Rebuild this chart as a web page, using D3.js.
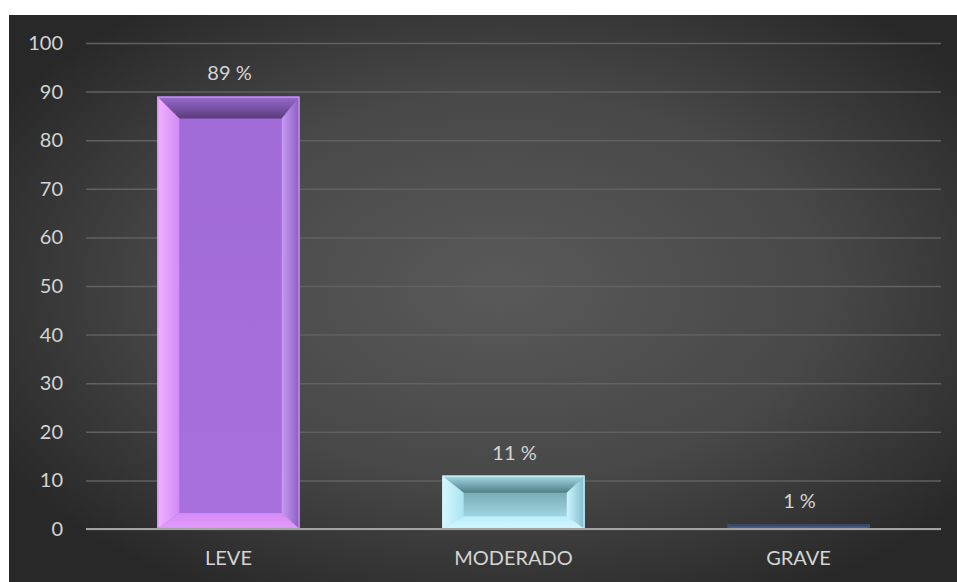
<!DOCTYPE html>
<html>
<head>
<meta charset="utf-8">
<script src="https://cdn.jsdelivr.net/npm/d3@7"></script>
<style>
  html, body { margin: 0; padding: 0; background: #ffffff; }
  svg { display: block; }
  text { font-family: "Lato", "Open Sans", sans-serif; fill: #d4d4d4; }
</style>
</head>
<body>
<svg id="chart" width="957" height="582"></svg>
<script>
// Severity categories and their percentages
const categories = ["LEVE", "MODERADO", "GRAVE"];
const values = [89, 11, 1];
const valueLabels = ["89 %", "11 %", "1 %"];
const yTicks = [0, 10, 20, 30, 40, 50, 60, 70, 80, 90, 100];

// Bevel palettes per bar: face (top→bottom), top, left, right, bottom
const palettes = [
  { face: ["#a06ad6", "#a870de"], top: ["#9a6cd0", "#5a3c7c"], left: ["#f6b0ff", "#d08cf4"],
    right: ["#c79af5", "#8b5cc0"], bottom: ["#d48af4", "#e29cfc"], edge: "#c59af2" },
  { face: ["#5f8f96", "#b2ecfa"], top: ["#a8dce6", "#4f7e86"], left: ["#d8f8ff", "#a8e4f2"],
    right: ["#cdf4ff", "#7fbccc"], bottom: ["#b8eefc", "#d4f7ff"], edge: "#c9f2fc" },
  { face: ["#2e3440", "#4f78c0"], top: ["#3a4150", "#34405a"], left: ["#3a4a68", "#4a68a8"],
    right: ["#3a4a68", "#4a68a8"], bottom: ["#5c82c8", "#6d90d6"], edge: "#3d4d6a" }
];

const svg = d3.select("#chart");
const W = 957, H = 582;
const margin = { top: 43, right: 16, bottom: 53, left: 86 };
const plotW = W - margin.left - margin.right;
const plotH = H - margin.top - margin.bottom;

const defs = svg.append("defs");

// Chart area background: dark radial gradient
const bg = defs.append("radialGradient").attr("id", "bgGrad")
  .attr("cx", "52%").attr("cy", "48%").attr("r", "62%");
bg.append("stop").attr("offset", "0%").attr("stop-color", "#595959");
bg.append("stop").attr("offset", "55%").attr("stop-color", "#484848");
bg.append("stop").attr("offset", "100%").attr("stop-color", "#282828");

svg.append("rect").attr("x", 9).attr("y", 15).attr("width", W - 9).attr("height", H - 15)
  .attr("fill", "url(#bgGrad)");

const x = d3.scaleBand().domain(categories).range([margin.left, margin.left + plotW])
  .paddingInner(0.5).paddingOuter(0.25);
const y = d3.scaleLinear().domain([0, 100]).range([margin.top + plotH, margin.top]);

// Gridlines
const grid = d3.axisLeft(y).tickValues(yTicks).tickSize(-plotW).tickFormat("");
const gG = svg.append("g").attr("transform", `translate(${margin.left},0)`).call(grid);
gG.select(".domain").remove();
gG.selectAll(".tick line").attr("stroke", "#616161").attr("stroke-width", 1.5);

// Y tick labels
const yAxis = d3.axisLeft(y).tickValues(yTicks).tickSize(0).tickPadding(23);
const yG = svg.append("g").attr("transform", `translate(${margin.left},0)`).call(yAxis);
yG.select(".domain").remove();
yG.selectAll("text").attr("font-size", 20).attr("fill", "#d4d4d4")
  .style("font-family", "Lato, 'Open Sans', sans-serif");

// Gradient helper (vertical by default, horizontal on request)
function vGrad(id, c, horiz) {
  const g = defs.append("linearGradient").attr("id", id)
    .attr("x1", 0).attr("y1", 0).attr("x2", horiz ? 1 : 0).attr("y2", horiz ? 0 : 1);
  g.append("stop").attr("offset", "0%").attr("stop-color", c[0]);
  g.append("stop").attr("offset", "100%").attr("stop-color", c[1]);
  return `url(#${id})`;
}

// Bars with bevelled frame
const bars = svg.append("g");
categories.forEach((cat, i) => {
  const v = values[i];
  const p = palettes[i];
  const x0 = x(cat), x1 = x0 + x.bandwidth();
  const y0 = y(v), y1 = y(0);
  const h = y1 - y0;
  const bt = Math.min(22, h * 0.32);
  const bb = Math.min(16, h * 0.24);
  const bl = Math.min(22, h * 0.4);
  const br = Math.min(18, h * 0.4);
  const g = bars.append("g");
  g.append("rect").attr("x", x0).attr("y", y0).attr("width", x1 - x0).attr("height", h)
    .attr("fill", vGrad(`face${i}`, p.face));
  const poly = pts => pts.map(d => d.join(",")).join(" ");
  // top bevel
  g.append("polygon").attr("points", poly([[x0, y0], [x1, y0], [x1 - br, y0 + bt], [x0 + bl, y0 + bt]]))
    .attr("fill", vGrad(`top${i}`, p.top));
  // bottom bevel
  g.append("polygon").attr("points", poly([[x0, y1], [x1, y1], [x1 - br, y1 - bb], [x0 + bl, y1 - bb]]))
    .attr("fill", vGrad(`bot${i}`, p.bottom));
  // left bevel
  g.append("polygon").attr("points", poly([[x0, y0], [x0 + bl, y0 + bt], [x0 + bl, y1 - bb], [x0, y1]]))
    .attr("fill", vGrad(`left${i}`, p.left, true));
  // right bevel
  g.append("polygon").attr("points", poly([[x1, y0], [x1 - br, y0 + bt], [x1 - br, y1 - bb], [x1, y1]]))
    .attr("fill", vGrad(`right${i}`, p.right, true));
  // thin outer rim
  g.append("rect").attr("x", x0 + 0.75).attr("y", y0 + 0.75)
    .attr("width", Math.max(0, x1 - x0 - 1.5)).attr("height", Math.max(0, h - 1.5))
    .attr("fill", "none").attr("stroke", p.edge).attr("stroke-width", 1.5).attr("opacity", 0.8);

  // value label
  svg.append("text").attr("x", x0 + x.bandwidth() / 2 + 1).attr("y", y0 - 16)
    .attr("text-anchor", "middle").attr("font-size", 20).text(valueLabels[i]);
});

// Category axis line
svg.append("line").attr("x1", margin.left).attr("x2", margin.left + plotW)
  .attr("y1", y(0)).attr("y2", y(0)).attr("stroke", "#a3a3a3").attr("stroke-width", 2);

// Category labels
const xAxis = d3.axisBottom(x).tickSize(0).tickPadding(22);
const xG = svg.append("g").attr("transform", `translate(0,${y(0)})`).call(xAxis);
xG.select(".domain").remove();
xG.selectAll("text").attr("font-size", 20).attr("fill", "#d4d4d4")
  .style("font-family", "Lato, 'Open Sans', sans-serif");
</script>
</body>
</html>
